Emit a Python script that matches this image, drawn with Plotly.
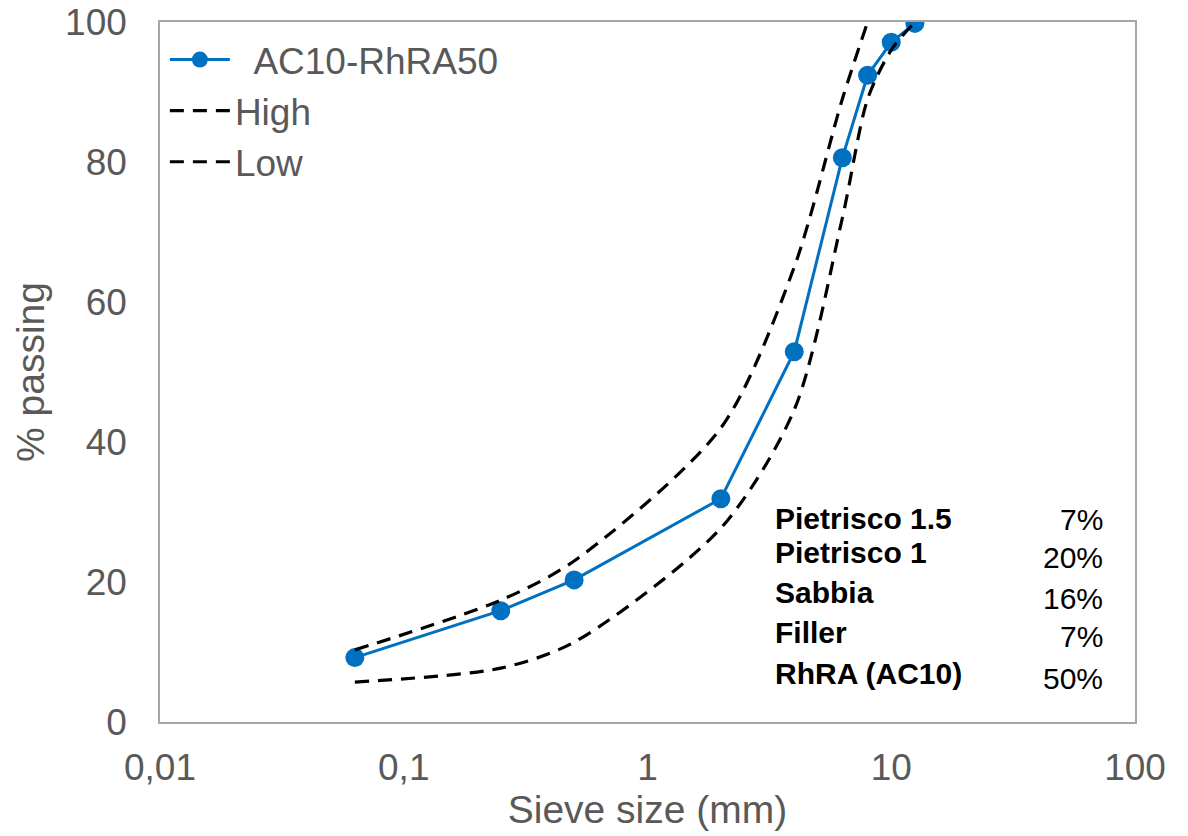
import plotly.graph_objects as go

sieve = [0.063, 0.25, 0.5, 2, 4, 6.3, 8, 10, 12.5]
mix = [9.2, 15.9, 20.3, 31.9, 52.9, 80.6, 92.4, 97.1, 99.8]
high_x = [0.063, 0.25, 0.5, 2, 4, 6.3, 8]
high = [10.3, 17.4, 23.0, 42.0, 65.0, 89.0, 100.0]
low_x = [0.063, 0.25, 0.5, 2, 4, 6.3, 8, 10, 12.5]
low = [5.7, 7.7, 11.4, 27.7, 44.6, 72.0, 89.0, 96.0, 100.0]

mat_names = ["Pietrisco 1.5", "Pietrisco 1", "Sabbia", "Filler", "RhRA (AC10)"]
mat_pct = ["7%", "20%", "16%", "7%", "50%"]

x_ticks = [0.01, 0.1, 1, 10, 100]
x_ticktext = ["0,01", "0,1", "1", "10", "100"]
y_ticks = [0, 20, 40, 60, 80, 100]

FONT = "Liberation Sans, Arial, sans-serif"
GREY = "#595959"
DASH = "14px,9px"

fig = go.Figure()
fig.add_trace(go.Scatter(x=sieve, y=mix, mode="lines+markers", name="  AC10-RhRA50",
                         line=dict(color="#0070C0", width=3),
                         marker=dict(color="#0070C0", size=19)))
fig.add_trace(go.Scatter(x=high_x, y=high, mode="lines", name="High",
                         line=dict(color="black", width=3.2, dash=DASH, shape="spline", smoothing=0.8)))
fig.add_trace(go.Scatter(x=low_x, y=low, mode="lines", name="Low",
                         line=dict(color="black", width=3.2, dash=DASH, shape="spline", smoothing=0.8)))

ys = [518, 552, 592, 632, 673]
yv = [519, 557, 598, 636, 678]
for i, (n, p) in enumerate(zip(mat_names, mat_pct)):
    fig.add_annotation(xref="paper", yref="paper", x=(773 - 160) / 975, y=(722 - ys[i]) / 700,
                       text="<b>" + n + "</b>", showarrow=False, xanchor="left", yanchor="middle",
                       font=dict(family=FONT, size=30, color="black"))
    fig.add_annotation(xref="paper", yref="paper", x=(1105 - 160) / 975, y=(722 - yv[i]) / 700,
                       text=p, showarrow=False, xanchor="right", yanchor="middle",
                       font=dict(family=FONT, size=30, color="black"))

fig.update_layout(
    width=1188, height=836,
    margin=dict(l=160, r=53, t=22, b=114),
    paper_bgcolor="white", plot_bgcolor="white",
    font=dict(family=FONT, size=38, color=GREY),
    showlegend=True,
    legend=dict(x=0.005, y=0.99, xanchor="left", yanchor="top", bgcolor="rgba(0,0,0,0)",
                font=dict(family=FONT, size=37, color=GREY), itemwidth=60, tracegroupgap=0),
    xaxis=dict(type="log", range=[-2, 2], tickvals=x_ticks, ticktext=x_ticktext,
               showgrid=False, zeroline=False, showline=True, mirror=True,
               linecolor="#A6A6A6", linewidth=1.5, ticks="", automargin=False,
               ticklabelstandoff=12,
               title=dict(text="Sieve size (mm)", font=dict(size=39, color=GREY), standoff=4),
               tickfont=dict(size=37, color=GREY)),
    yaxis=dict(range=[0, 100], tickvals=y_ticks, showgrid=False, zeroline=False,
               showline=True, mirror=True, linecolor="#A6A6A6", linewidth=1.5, ticks="",
               automargin=False, ticklabelstandoff=24,
               title=dict(text="% passing", font=dict(size=39, color=GREY), standoff=8),
               tickfont=dict(size=37, color=GREY)),
)

fig.write_html("out.html")
